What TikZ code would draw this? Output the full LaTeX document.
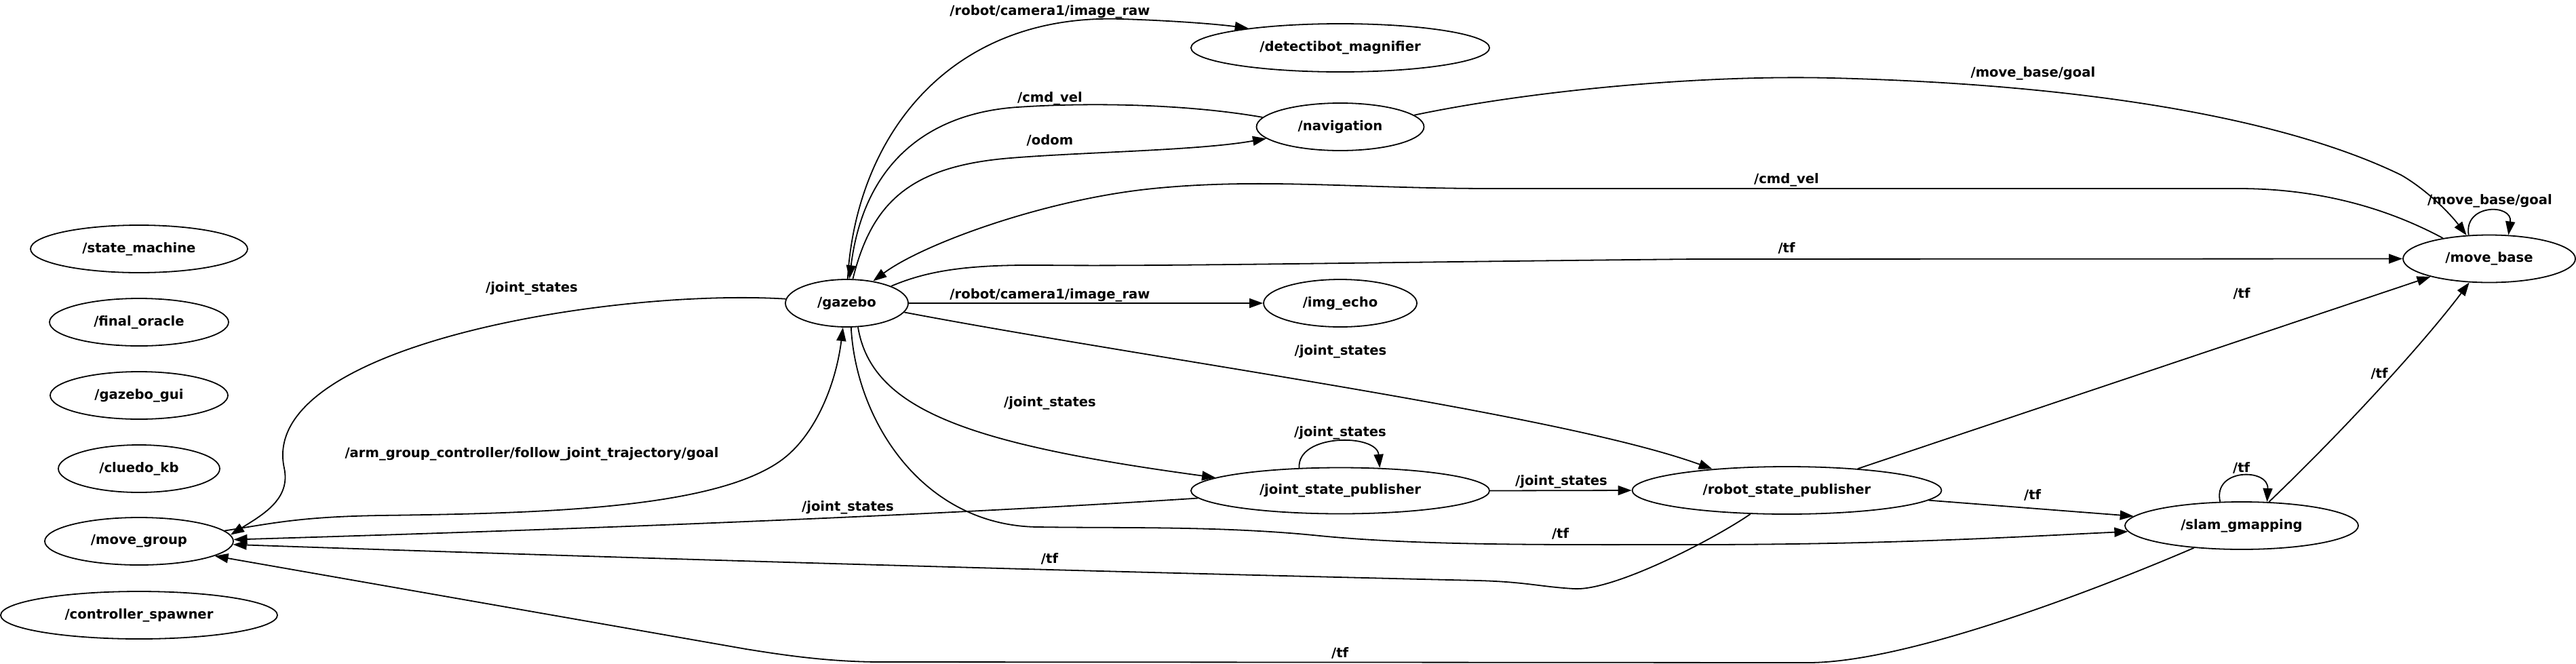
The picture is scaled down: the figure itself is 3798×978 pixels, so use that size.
\documentclass[tikz,border=0pt]{standalone}
\usepackage{fontspec}
\setmainfont{DejaVu Sans}
\usetikzlibrary{shapes.geometric,arrows.meta}
\newcommand{\mylbl}{\fontsize{19.6}{23}\selectfont\bfseries}
\begin{document}
\begin{tikzpicture}[x=1pt,y=-1pt,
  nd/.style={draw, ellipse, line width=1.8pt, inner sep=0pt, minimum height=70pt, font=\mylbl},
  lab/.style={anchor=base, font=\mylbl, inner sep=0pt},
  edge/.style={line width=1.8pt, -{Triangle[length=20pt,width=14pt]}}]
\fill[white] (0,0) rectangle (3798,978);
\useasboundingbox (0,0) rectangle (3798,978);
% nodes
\node[nd, minimum width=320pt] (sm) at (205,367) {/state\_machine};
\node[nd, minimum width=264pt] (fo) at (205,475) {/final\_oracle};
\node[nd, minimum width=262pt] (gg) at (205,583) {/gazebo\_gui};
\node[nd, minimum width=238pt] (ck) at (205,691) {/cluedo\_kb};
\node[nd, minimum width=278pt] (mg) at (205,798) {/move\_group};
\node[nd, minimum width=408pt] (cs) at (205,907) {/controller\_spawner};
\node[nd, minimum width=181pt] (gz) at (1248.5,447) {/gazebo};
\node[nd, minimum width=440pt, minimum height=71pt] (dm) at (1976,70.5) {/detectibot\_magnifier};
\node[nd, minimum width=247pt] (nav) at (1976,187) {/navigation};
\node[nd, minimum width=226pt] (ie) at (1976,447) {/img\_echo};
\node[nd, minimum width=440pt, minimum height=68pt] (jsp) at (1976,723.5) {/joint\_state\_publisher};
\node[nd, minimum width=456pt] (rsp) at (2634.5,723) {/robot\_state\_publisher};
\node[nd, minimum width=344pt] (sg) at (3305,775) {/slam\_gmapping};
\node[nd, minimum width=254pt] (mb) at (3670,381.5) {/move\_base};
% edges
% gazebo -> detectibot_magnifier
\draw[edge] (gz.88) .. controls (1262,200) and (1400,20) .. (1652,28)
  .. controls (1720,30) and (1790,35) .. (dm.168);
% navigation -> gazebo (cmd_vel)
\draw[edge] (nav.173) .. controls (1760,155) and (1620,150) .. (1500,158)
  .. controls (1380,166) and (1275,230) .. (gz.84);
% gazebo -> navigation (odom)
\draw[edge] (gz.76) .. controls (1285,300) and (1340,245) .. (1490,233)
  .. controls (1600,224) and (1767,222) .. (nav.189);
% navigation -> move_base
\draw[edge] (nav.9) .. controls (2250,135) and (2500,110) .. (2700,115)
  .. controls (3100,125) and (3380,180) .. (3540,258)
  .. controls (3575,278) and (3610,312) .. (mb.134);
% move_base self loop
\draw[edge] (mb.131) .. controls (3632,300) and (3705,300) .. (mb.51);
% move_base -> gazebo (cmd_vel)
\draw[edge] (mb.156) .. controls (3540,318) and (3440,278) .. (3300,278)
  -- (2200,278)
  .. controls (2000,278) and (1860,262) .. (1700,278)
  .. controls (1540,294) and (1360,360) .. (gz.40);
% gazebo -> move_base (tf)
\draw[edge] (gz.21) .. controls (1370,398) and (1430,390) .. (1540,391)
  .. controls (1700,393) and (2000,387) .. (2500,382) -- (mb.west);
% gazebo -> img_echo
\draw[edge] (gz.east) -- (ie.west);
% gazebo -> robot_state_publisher
\draw[edge] (gz.-9) .. controls (1700,530) and (2300,610) .. (rsp.164);
% gazebo -> joint_state_publisher
\draw[edge] (gz.-65) .. controls (1285,605) and (1430,655) .. (jsp.174.5);
% joint_state_publisher self loop
\draw[edge] (jsp.151) .. controls (1912,639) and (2030,639) .. (jsp.30);
% joint_state_publisher -> robot_state_publisher
\draw[edge] (jsp.east) -- (rsp.west);
% gazebo -> slam_gmapping
\draw[edge] (gz.-80) .. controls (1262,620) and (1360,775) .. (1530,777)
  .. controls (1650,779) and (1800,775) .. (1946,790)
  .. controls (2100,805) and (2300,803) .. (2500,803)
  .. controls (2800,803) and (3000,790) .. (sg.183);
% robot_state_publisher -> slam_gmapping
\draw[edge] (rsp.-4.2) -- (sg.175.8);
% robot_state_publisher -> move_base
\draw[edge] (rsp.17) -- (mb.197);
% slam_gmapping -> move_base
\draw[edge] (sg.41) .. controls (3450,640) and (3570,510) .. (mb.230.7);
% slam self loop
\draw[edge] (sg.132) .. controls (3262,690) and (3345,690) .. (sg.43);
% gazebo -> move_group (joint_states)
\draw[edge] (gz.176) .. controls (900,425) and (380,510) .. (419,690)
  .. controls (429,736) and (387,759) .. (mg.4.8);
% move_group -> gazebo (arm goal)
\draw[edge] (mg.7.2) .. controls (400,772) and (440,762) .. (560,760)
  .. controls (800,757) and (1050,750) .. (1150,680)
  .. controls (1200,645) and (1232,570) .. (gz.-99);
% joint_state_publisher -> move_group
\draw[edge] (jsp.183) .. controls (1300,765) and (700,785) .. (mg.1);
% robot_state_publisher -> move_group
\draw[edge] (rsp.213.5) .. controls (2530,793) and (2380,872) .. (2320,868)
  .. controls (2270,865) and (2250,858) .. (2180,856)
  .. controls (1500,840) and (900,822) .. (mg.-2);
% slam_gmapping -> move_group
\draw[edge] (sg.205.7) .. controls (3118,858) and (2820,977) .. (2666,977)
  -- (1300,976)
  .. controls (1220,976) and (1150,965) .. (1100,957) -- (mg.-11.5);
% labels
\node[lab] (l1) at (1548,22.7) {/robot/camera1/image\_raw};
\node[lab] (l2) at (1548,150) {/cmd\_vel};
\node[lab] (l3) at (1548,213) {/odom};
\node[lab] (l4) at (1548,440) {/robot/camera1/image\_raw};
\node[lab] (l5) at (2997.5,113) {/move\_base/goal};
\node[lab] (l6) at (2634,270.7) {/cmd\_vel};
\node[lab] (l7) at (2634,372.7) {/tf};
\node[lab] (l8) at (3671,301.7) {/move\_base/goal};
\node[lab] (l9) at (3305,439.3) {/tf};
\node[lab] (l10) at (784,430) {/joint\_states};
\node[lab] (l11) at (784,674) {/arm\_group\_controller/follow\_joint\_trajectory/goal};
\node[lab] (l12) at (1976.5,523.3) {/joint\_states};
\node[lab] (l13) at (1548,599.3) {/joint\_states};
\node[lab] (l14) at (1976,643.3) {/joint\_states};
\node[lab] (l15) at (2302,715) {/joint\_states};
\node[lab] (l16) at (1250,753.3) {/joint\_states};
\node[lab] (l17) at (2300.5,793.3) {/tf};
\node[lab] (l18) at (1547.5,830.7) {/tf};
\node[lab] (l19) at (1975.7,969.3) {/tf};
\node[lab] (l20) at (2996.7,736) {/tf};
\node[lab] (l21) at (3304.6,696.7) {/tf};
\node[lab] (l22) at (3508,557.3) {/tf};
\end{tikzpicture}
\end{document}
